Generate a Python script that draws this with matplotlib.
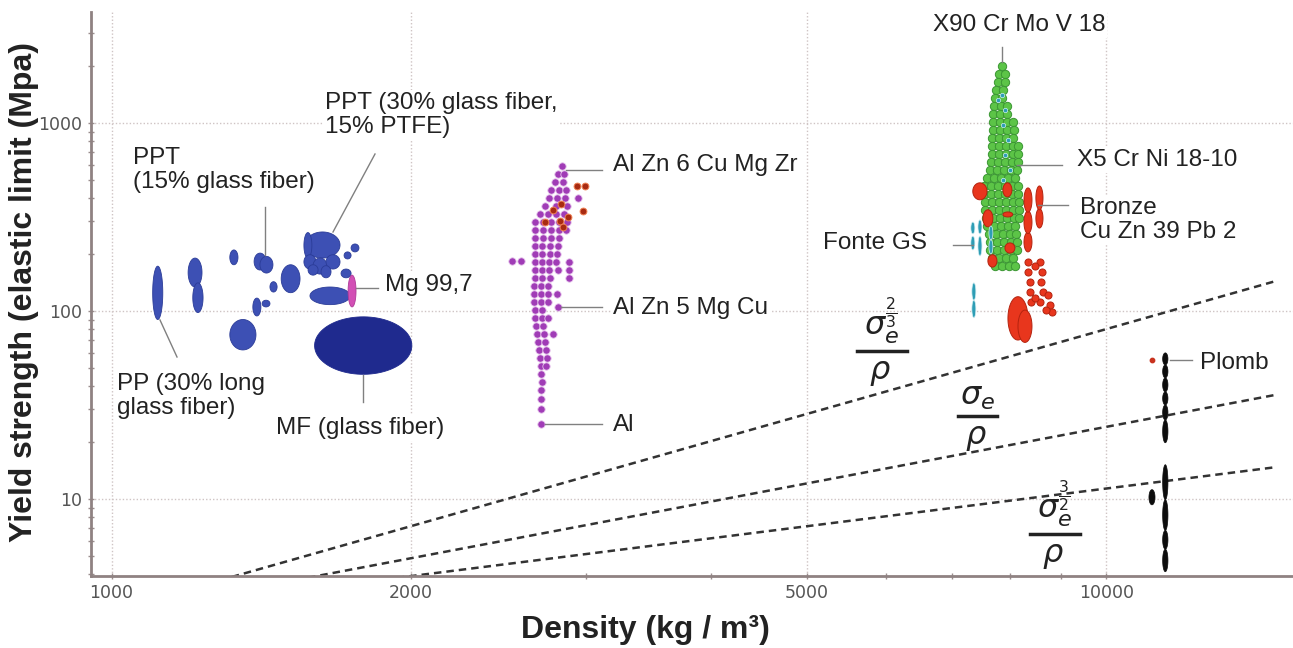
import numpy as np
import matplotlib.pyplot as plt
from matplotlib.lines import Line2D
from matplotlib.ticker import FixedLocator, NullFormatter, FuncFormatter

W, H = 1293, 648
plt.rcParams['font.family'] = ['Liberation Sans', 'DejaVu Sans']
plt.rcParams['mathtext.fontset'] = 'dejavusans'

# ---- material data: (density lo, density hi [kg/m3], strength lo, strength hi [MPa])
polymers = [
    (1100, 1126, 90, 173),    # PP 30% long glass fiber
    (1194, 1233, 134, 191),
    (1207, 1236, 98, 141),
    (1315, 1340, 176, 211),
    (1391, 1430, 165, 203),   # PPT 15% glass fiber
    (1410, 1453, 159, 195),
    (1443, 1467, 126, 143),
    (1481, 1547, 125, 176),
    (1387, 1413, 94, 117),
    (1417, 1443, 105, 114),
    (1315, 1397, 62, 90),
    (1565, 1697, 191, 263),   # PPT 30% glass fiber 15% PTFE
    (1561, 1590, 191, 261),
    (1561, 1605, 167, 199),
    (1594, 1647, 157, 191),
    (1643, 1697, 167, 199),
    (1624, 1662, 150, 174),
    (1576, 1613, 155, 176),
    (1741, 1773, 206, 227),
    (1713, 1741, 189, 206),
    (1701, 1741, 150, 167),
    (1583, 1737, 108, 134),
]
mf_glass = (1600, 2004, 46, 93)
mg_997 = (1729, 1761, 105, 155)

# aluminium alloys: rows of (strength, densities)
al_rows = [
    (590, [2836]), (536, [2810, 2849]), (486, [2791, 2843]),
    (440, [2766, 2817, 2862]), (399, [2753, 2804, 2856]),
    (362, [2727, 2800, 2869]), (328, [2696, 2746, 2797, 2849]),
    (298, [2665, 2715, 2766, 2817, 2869]), (270, [2665, 2715, 2766, 2817, 2862]),
    (245, [2665, 2715, 2766, 2817]), (222, [2665, 2709, 2759, 2810]),
    (201, [2665, 2709, 2759, 2804]), (182, [2665, 2709, 2753, 2797, 2882]),
    (165, [2665, 2709, 2753, 2810, 2882]), (150, [2665, 2709, 2759, 2882]),
    (136, [2659, 2702, 2746]), (123, [2659, 2702, 2746, 2804]),
    (112, [2659, 2702, 2746]), (105, [2810]), (101, [2665, 2709]),
    (92, [2665, 2709, 2746]), (83, [2671, 2715]), (75, [2677, 2721, 2778]),
    (68, [2684, 2727]), (62, [2690, 2734]), (56, [2696, 2740]),
    (51, [2702, 2734]), (46, [2702]), (42, [2709]), (38, [2702]),
    (34, [2702]), (30, [2702]), (25, [2702]),
    (185, [2526, 2579]), (400, [2943]),
]
al_cu_rho = [2936, 2991, 2977, 2778, 2830, 2823, 2875, 2727, 2843]
al_cu_sig = [463, 463, 340, 345, 371, 301, 316, 298, 280]

# steels: rows of (strength, densities)
steel_rows = [
    (2010, [7852]), (1822, [7798, 7907]), (1652, [7780, 7907]),
    (1498, [7743, 7870]), (1358, [7725, 7852]), (1231, [7707, 7834, 7943]),
    (1117, [7689, 7816, 7943]), (1012, [7689, 7816, 7943, 8054]),
    (918, [7689, 7816, 7943, 8072]), (832, [7672, 7798, 7925, 8054]),
    (755, [7672, 7798, 7925, 8054, 8149]), (684, [7672, 7798, 7925, 8054, 8149]),
    (620, [7654, 7780, 7907, 8035, 8149]), (562, [7637, 7762, 7888, 8017, 8128]),
    (510, [7585, 7707, 7834, 7962, 8091]), (462, [7532, 7654, 7780, 7907, 8035, 8149]),
    (419, [7532, 7654, 7780, 7907, 8035, 8149]), (380, [7549, 7672, 7798, 7925, 8054, 8168]),
    (345, [7549, 7672, 7798, 7925, 8054, 8168]), (312, [7567, 7689, 7816, 7943, 8072, 8168]),
    (283, [7585, 7707, 7834, 7962, 8091]), (257, [7619, 7743, 7870, 7998, 8110]),
    (233, [7637, 7762, 7888, 8017, 8128]), (211, [7637, 7762, 7888, 8017, 8128]),
    (191, [7672, 7798, 7925, 8054]), (174, [7725, 7852, 7980, 8091]),
]
stainless_rho = [7852, 7780, 7907, 7870, 7962, 7907, 7998, 7870]
stainless_sig = [1410, 1325, 1173, 976, 812, 676, 562, 497]

fonte_gs = [
    (7307, 7375, 257, 297), (7307, 7375, 211, 250),
    (7428, 7497, 257, 305), (7428, 7497, 196, 250),
    (7619, 7689, 239, 283), (7619, 7689, 201, 239),
    (7324, 7392, 114, 141), (7324, 7392, 92, 114),
]
red_alloys = [
    (7340, 7585, 390, 480), (7870, 8035, 404, 480), (7514, 7689, 280, 345),
    (7870, 8050, 316, 336), (7907, 8091, 203, 230), (7601, 7762, 171, 199),
    (8263, 8417, 206, 262), (8263, 8417, 258, 340), (8263, 8417, 335, 451),
    (8494, 8634, 276, 350), (8494, 8634, 345, 462),
    (7962, 8339, 70, 119), (8149, 8417, 68, 101),
]
brass_rho = [8339, 8339, 8378, 8378, 8397, 8575, 8614, 8594, 8634, 8575,
             8475, 8475, 8734, 8774, 8815, 8694]
brass_sig = [182, 161, 143, 126, 112, 182, 161, 143, 126, 112,
             174, 117, 122, 108, 99, 101]

lead = [
    (11390, 11530, 51.6, 59.8), (11390, 11530, 44.0, 51.6), (11390, 11530, 37.1, 44.0),
    (11390, 11530, 31.6, 37.1), (11390, 11530, 26.3, 31.6), (11390, 11530, 19.9, 26.3),
    (11390, 11530, 9.9, 15.2), (11390, 11530, 6.8, 9.9), (11390, 11530, 5.4, 6.8),
    (11390, 11530, 4.1, 5.4), (11034, 11190, 9.3, 11.2),
]
lead_red = (11112, 54.9)

# performance index lines: constant value of sigma^n / rho
index_exp = [2 / 3, 1.0, 3 / 2]
index_val = [0.001858, 0.002418, 0.003829]
index_rho = [1000, 14800]


def bubble(ax, r_lo, r_hi, s_lo, s_hi, fc, ec, lw=0.6, z=3):
    t = np.linspace(0, 2 * np.pi, 90)
    lx = np.log10([r_lo, r_hi])
    ly = np.log10([s_lo, s_hi])
    xs = 10 ** (lx.mean() + (lx[1] - lx[0]) / 2 * np.cos(t))
    ys = 10 ** (ly.mean() + (ly[1] - ly[0]) / 2 * np.sin(t))
    ax.fill(xs, ys, facecolor=fc, edgecolor=ec, linewidth=lw, zorder=z)


def rows_to_xy(rows):
    xs, ys = [], []
    for s, dens in rows:
        xs += dens
        ys += [s] * len(dens)
    return xs, ys


def fp(px, py):
    return px / W, 1 - py / H


fig = plt.figure(figsize=(W / 100, H / 100), dpi=100)
ax = fig.add_axes([90.7 / W, (H - 576) / H, (W - 90.7) / W, (576 - 12) / H])
ax.set_xscale('log')
ax.set_yscale('log')
ax.set_xlim(953, 15400)
ax.set_ylim(3.89, 3890)

# grid & axes styling
ax.set_axisbelow(True)
ax.grid(which='major', ls=(0, (1, 1.5)), color='#cfc4c4', lw=1)
for s in ['top', 'right']:
    ax.spines[s].set_visible(False)
for s in ['left', 'bottom']:
    ax.spines[s].set_color('#8f8282')
    ax.spines[s].set_linewidth(2)
ax.xaxis.set_major_locator(FixedLocator([1000, 2000, 5000, 10000]))
ax.xaxis.set_minor_locator(FixedLocator([3000, 4000, 6000, 7000, 8000, 9000]))
ax.yaxis.set_major_locator(FixedLocator([10, 100, 1000]))
fmt = FuncFormatter(lambda v, p: f'{v:g}')
ax.xaxis.set_major_formatter(fmt)
ax.yaxis.set_major_formatter(fmt)
ax.xaxis.set_minor_formatter(NullFormatter())
ax.yaxis.set_minor_formatter(NullFormatter())
ax.tick_params(which='both', direction='inout', color='#9a8e8e', length=4, width=1)
ax.tick_params(which='major', labelsize=12.5, labelcolor='#555555', pad=4)
for lab in ax.get_xticklabels() + ax.get_yticklabels():
    lab.set_family(['Liberation Sans Narrow', 'DejaVu Sans'])

# index lines
for n, c in zip(index_exp, index_val):
    r = np.array(index_rho, dtype=float)
    ax.plot(r, (c * r) ** (1 / n), color='#333333', lw=1.8,
            ls=(0, (3, 2)), zorder=2)

# polymers
for b in polymers:
    bubble(ax, *b, fc='#3d50b4', ec='#2b3c98')
bubble(ax, *mf_glass, fc='#1f2a8e', ec='#1f2a8e', z=3)
bubble(ax, *mg_997, fc='#d24fb5', ec='#b03a98', z=4)

# aluminium
ax_, ay_ = rows_to_xy(al_rows)
ax.scatter(ax_, ay_, s=28, c='#a03cb6', edgecolors='#e6c3ec', linewidths=0.6, zorder=3)
ax.scatter(al_cu_rho, al_cu_sig, s=24, c='#a82b12', edgecolors='#ef8052',
           linewidths=0.7, zorder=4)

# steels
sx, sy = rows_to_xy(steel_rows)
ax.scatter(sx, sy, s=36, c='#5cc447', edgecolors='#3a9632', linewidths=0.7, zorder=3)
for b in red_alloys:
    bubble(ax, *b, fc='#e8361d', ec='#b4230f', lw=0.7, z=4)
ax.scatter(brass_rho, brass_sig, s=26, c='#e8361d', edgecolors='#b4230f',
           linewidths=0.7, zorder=4)
ax.scatter(stainless_rho, stainless_sig, s=10, c='#2e9db5', edgecolors='#cdeef3',
           linewidths=0.5, zorder=5)
for b in fonte_gs:
    bubble(ax, *b, fc='#2e9db5', ec='#d2eef2', lw=0.5, z=5)

# lead
for b in lead:
    bubble(ax, *b, fc='#0d0d0d', ec='#0d0d0d', lw=0.5, z=4)
ax.scatter([lead_red[0]], [lead_red[1]], s=10, c='#c8321e', zorder=5)

# labels (figure pixel positions)
lab_kw = dict(fontsize=17.5, color='#222222', va='center',
              bbox=dict(fc='white', ec='none', pad=1.5))
labels = [
    ('PPT (30% glass fiber,\n15% PTFE)', 325, 115, 'left'),
    ('PPT\n(15% glass fiber)', 133, 170, 'left'),
    ('Mg 99,7', 385, 285, 'left'),
    ('PP (30% long\nglass fiber)', 117, 396, 'left'),
    ('MF (glass fiber)', 276, 428, 'left'),
    ('Al Zn 6 Cu Mg Zr', 613, 165, 'left'),
    ('Al Zn 5 Mg Cu', 613, 308, 'left'),
    ('Al', 613, 425, 'left'),
    ('X90 Cr Mo V 18', 1019, 25, 'center'),
    ('X5 Cr Ni 18-10', 1077, 160, 'left'),
    ('Bronze\nCu Zn 39 Pb 2', 1080, 220, 'left'),
    ('Fonte GS', 927, 243, 'right'),
    ('Plomb', 1200, 363, 'left'),
]
for txt, px, py, ha in labels:
    fig.text(*fp(px, py), txt, ha=ha, linespacing=1.15, **lab_kw)

leaders = [
    (333, 232, 375, 154), (265, 207, 265, 255), (356, 288, 378, 288),
    (160, 320, 177, 357), (363, 375, 363, 402), (566, 170, 602, 170),
    (561, 307, 602, 307), (545, 424, 602, 424), (1002, 47, 1002, 62),
    (1017, 165, 1062, 165), (1038, 205, 1068, 205), (953, 245, 973, 245),
    (1170, 360, 1192, 360),
]
for x0, y0, x1, y1 in leaders:
    (a, b), (c, d) = fp(x0, y0), fp(x1, y1)
    fig.add_artist(Line2D([a, c], [b, d], transform=fig.transFigure,
                          color='#808080', lw=1))

# index formulas
formulas = [
    (r'$\sigma_e^{\frac{2}{3}}$', 857, 907, 351),
    (r'$\sigma_e$', 958, 997, 416),
    (r'$\sigma_e^{\frac{3}{2}}$', 1030, 1080, 534),
]
for num, x0, x1, yb in formulas:
    (a, b), (c, d) = fp(x0, yb), fp(x1, yb)
    fig.add_artist(Line2D([a, c], [b, d], transform=fig.transFigure,
                          color='#222222', lw=2.5))
    fig.text(*fp((x0 + x1) / 2, yb - 4), num, ha='center', va='bottom',
             fontsize=23, color='#222222')
    fig.text(*fp((x0 + x1) / 2 - 2, yb + 7), r'$\rho$', ha='center', va='top',
             fontsize=23, color='#222222')

# axis titles
fig.text(*fp(645, 630), 'Density (kg / m³)', ha='center', va='center',
         fontsize=23, fontweight='bold', color='#222222')
fig.text(*fp(24, 292), 'Yield strength (elastic limit (Mpa)', ha='center',
         va='center', rotation=90, fontsize=23, fontweight='bold', color='#222222')

fig.savefig('out.png', dpi=100)
